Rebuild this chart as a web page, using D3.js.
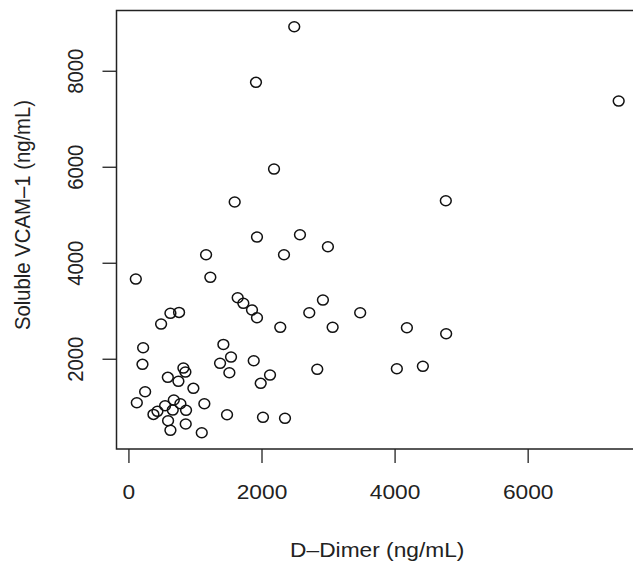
<!DOCTYPE html>
<html>
<head>
<meta charset="utf-8">
<script src="https://cdn.jsdelivr.net/npm/d3@7"></script>
<style>
  body { margin: 0; background: #fff; }
  svg text { font-family: "Liberation Sans", Arial, sans-serif; fill: #222; font-size: 20.3px; }
</style>
</head>
<body>
<svg id="chart" width="633" height="563"></svg>
<script>
// D-Dimer (ng/mL)
var dDimer = [2492, 1917, 7368, 2188, 4770, 1597, 1932, 2578, 2998, 1167,
              2338, 111, 1231, 1642, 1727, 1857, 1932, 2282, 2718, 2923,
              3069, 3483, 491, 631, 761, 221, 211, 251, 126, 1427,
              1542, 1377, 1517, 1883, 2128, 1988, 2838, 826, 856, 592,
              751, 976, 1141, 682, 551, 781, 666, 866, 436, 376,
              596, 861, 631, 1102, 1482, 2022, 2353, 4185, 4775, 4034,
              4425];

// Soluble VCAM-1 (ng/mL), same order
var vcam = [8917, 7758, 7369, 5952, 5292, 5265, 4535, 4583, 4333, 4167,
            4167, 3660, 3696, 3271, 3154, 3015, 2854, 2654, 2958, 3223,
            2654, 2958, 2723, 2946, 2966, 2229, 1883, 1313, 1083, 2298,
            2035, 1904, 1708, 1958, 1660, 1487, 1779, 1806, 1723, 1612,
            1529, 1383, 1063, 1140, 1021, 1063, 931, 925, 904, 841,
            708, 640, 508, 458, 833, 779, 758, 2646, 2521, 1792,
            1842];

var xTicks = [0, 2000, 4000, 6000];
var yTicks = [2000, 4000, 6000, 8000];

// the picture is a bit wider than tall, text is stretched sideways
var stretch = 1.12;

var svg = d3.select("#chart");
var margin = {top: 10.5, right: -5, bottom: 114, left: 116.5},
    width = 633 - margin.left - margin.right,
    height = 563 - margin.top - margin.bottom;

// R style: extend range by 4% on each side
function padded(vals) {
    var ext = d3.extent(vals), d = (ext[1] - ext[0]) * 0.04;
    return [ext[0] - d, ext[1] + d];
}

var x = d3.scaleLinear().domain(padded(dDimer)).range([0, width]);
var y = d3.scaleLinear().domain(padded(vcam)).range([height, 0]);

var g = svg.append("g")
    .attr("transform", "translate(" + margin.left + "," + margin.top + ")");

// x axis
var xAxisGroup = g.append("g")
    .attr("transform", "translate(0," + height + ")")
    .call(d3.axisBottom(x).tickValues(xTicks).tickSize(14).tickSizeOuter(0)
        .tickFormat(d3.format("d")));
xAxisGroup.select(".domain").remove();
xAxisGroup.selectAll("line").attr("stroke", "#222").attr("stroke-width", 1.3);
xAxisGroup.selectAll("text")
    .attr("y", 0).attr("dy", 0)
    .attr("transform", "translate(0,50) scale(" + stretch + ",1)");

// y axis
var yAxisGroup = g.append("g")
    .call(d3.axisLeft(y).tickValues(yTicks).tickSize(14).tickSizeOuter(0)
        .tickFormat(d3.format("d")));
yAxisGroup.select(".domain").remove();
yAxisGroup.selectAll("line").attr("stroke", "#222").attr("stroke-width", 1.3);
yAxisGroup.selectAll("text")
    .attr("x", 0).attr("y", 0).attr("dy", 0)
    .style("text-anchor", "middle")
    .attr("transform", "translate(-34,0) scale(" + stretch + ",1) rotate(-90)");

// box
g.append("rect")
    .attr("width", width).attr("height", height)
    .attr("fill", "none").attr("stroke", "#222").attr("stroke-width", 1.5);

// points
g.append("g").selectAll("ellipse")
    .data(dDimer)
    .enter().append("ellipse")
    .attr("cx", function(d) { return x(d); })
    .attr("cy", function(d, i) { return y(vcam[i]); })
    .attr("rx", 5.4)
    .attr("ry", 5)
    .attr("fill", "none")
    .attr("stroke", "#111")
    .attr("stroke-width", 1.5);

// axis titles
svg.append("text")
    .attr("transform", "translate(" + (margin.left + width / 2) + ",557) scale(" + stretch + ",1)")
    .attr("text-anchor", "middle")
    .text("D\u2013Dimer (ng/mL)");

svg.append("text")
    .attr("transform", "translate(30,215) scale(" + stretch + ",1) rotate(-90)")
    .attr("text-anchor", "middle")
    .text("Soluble VCAM\u20131 (ng/mL)");
</script>
</body>
</html>
